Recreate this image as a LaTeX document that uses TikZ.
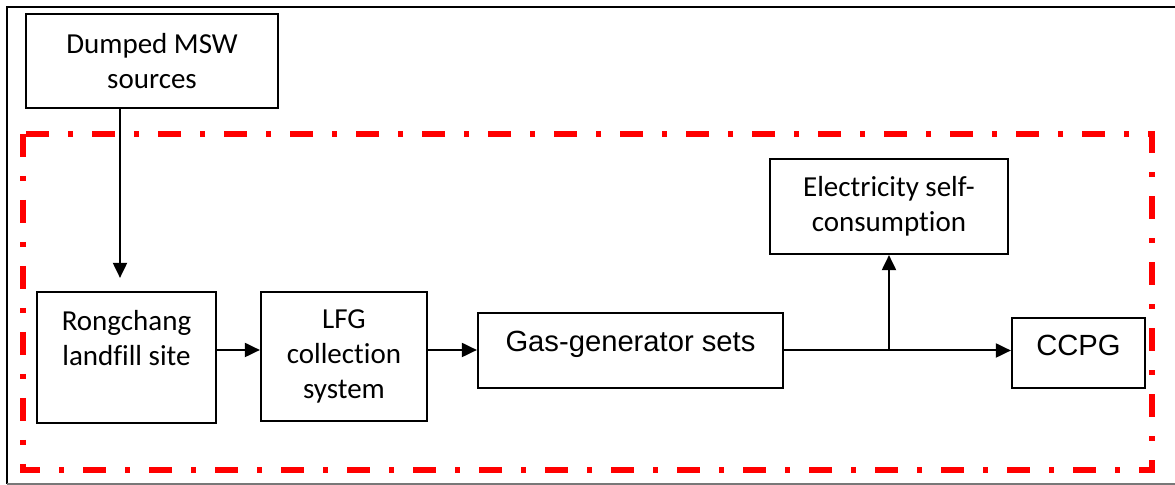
\documentclass[tikz,border=0pt]{standalone}
\usepackage{fontspec}
\setmainfont[Ligatures={NoCommon,NoContextual}]{Carlito}
\newfontfamily\arialfont{Liberation Sans}
\definecolor{bndred}{RGB}{255,0,0}
\definecolor{edgegray}{RGB}{120,120,120}
\usetikzlibrary{arrows.meta,calc}

\begin{document}
\begin{tikzpicture}[x=0.5pt,y=-0.5pt,
  lfgbox/.style={draw,line width=1.1pt,align=center,inner sep=2pt,font=\fontsize{14.5}{17.5}\selectfont},
  arialbox/.style={lfgbox,font=\arialfont\fontsize{14.6}{17}\selectfont},
  lfgflow/.style={line width=1pt,-{Triangle[length=7.5pt,width=7pt]}},
  bndline/.style={draw=bndred,line width=2.6pt,dash pattern=on 11.5pt off 9.5pt on 2.5pt off 9.5pt}
]
  \useasboundingbox (0,0) rectangle (1175,485);
  \draw[line width=0.75pt] (1175,7) -- (7,7) -- (7,484);
  \draw[line width=0.75pt,edgegray] (7,484) -- (1175,484);
  \draw[bndline] (23,134) rectangle (1152,470);

  \node[lfgbox,minimum width=126pt,minimum height=47pt] (msw) at (152,61) {Dumped MSW\\sources};
  \node[lfgbox,minimum width=89.5pt,minimum height=65.5pt] (landfill) at (126.5,357.5)
    {Rongchang\\landfill site\\\vphantom{system}};
  \node[lfgbox,minimum width=83pt,minimum height=64.5pt] (collect) at (344,356.5)
    {LFG\\collection\\system};
  \node[arialbox,minimum width=152.5pt,minimum height=37.5pt,text height=5pt,text depth=4pt] (genset) at (630.5,350.5)
    {Gas-generator sets};
  \node[lfgbox,minimum width=119pt,minimum height=47.5pt] (selfuse) at (889,206.5)
    {Electricity self-\\consumption};
  \node[arialbox,minimum width=66.5pt,minimum height=35pt,text height=5pt,text depth=2pt] (ccpg) at (1078.5,353)
    {CCPG};

  \draw[lfgflow] ([xshift=-3.25pt]landfill.north |- msw.south) -- ([xshift=-3.25pt,yshift=6.5pt]landfill.north);
  \draw[lfgflow] ([yshift=3.75pt]landfill.east) -- ([yshift=3.75pt]landfill.east -| collect.west);
  \draw[lfgflow] ([yshift=3.25pt]collect.east) -- ([yshift=3.25pt]collect.east -| genset.west);
  \draw[lfgflow] (genset.east) -- (genset.east -| ccpg.west);
  \draw[lfgflow] (selfuse.south |- genset.east) -- (selfuse.south);
\end{tikzpicture}
\end{document}
